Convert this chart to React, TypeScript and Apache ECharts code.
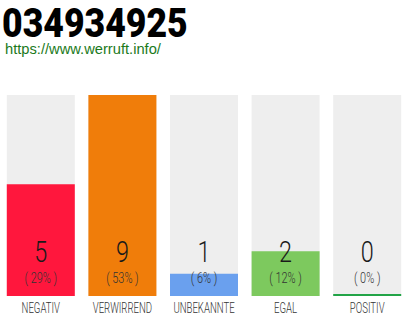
import React, { useEffect, useRef } from "react";
import * as echarts from "echarts";

const categories = ["NEGATIV", "VERWIRREND", "UNBEKANNTE", "EGAL", "POSITIV"];
const counts = [5, 9, 1, 2, 0];
const colors = ["#ff173d", "#f07d0a", "#6aa0ee", "#7dc95e", "#22a447"];
const phoneNumber = "034934925";
const siteUrl = "https://www.werruft.info/";

const THIN = "Roboto, 'DejaVu Sans Condensed', sans-serif";

export default function App() {
  const ref = useRef<HTMLDivElement>(null);

  useEffect(() => {
    if (!ref.current) return;
    const chart = echarts.init(ref.current, undefined, { renderer: "svg" });
    const total = counts.reduce((a, b) => a + b, 0);
    const maxCount = Math.max(...counts);

    chart.setOption({
      animation: false,
      backgroundColor: "#ffffff",
      grid: { left: -2, width: 410, top: 95, bottom: 24 },
      xAxis: {
        type: "category",
        data: categories,
        axisLine: { show: false },
        axisTick: { show: false },
        axisLabel: { show: false },
      },
      yAxis: {
        type: "value",
        min: 0,
        max: maxCount,
        show: false,
        splitLine: { show: false },
      },
      series: [
        {
          type: "bar",
          barWidth: 68,
          barMinHeight: 2,
          showBackground: true,
          backgroundStyle: { color: "#eeeeee" },
          data: counts.map((v, i) => ({
            value: v,
            itemStyle: { color: colors[i] },
          })),
        },
      ],
    });

    // Condensed texts placed from the axis scale: value, share and category under each bar
    const texts: any[] = [];
    categories.forEach((name, i) => {
      const [cx, baseY] = chart.convertToPixel({ seriesIndex: 0 }, [i, 0]) as number[];
      texts.push({
        type: "text",
        x: cx,
        y: baseY - 44,
        z: 100,
        scaleX: 0.78,
        style: {
          text: String(counts[i]),
          font: `300 30px ${THIN}`,
          fill: "#1a1a1a",
          align: "center",
          verticalAlign: "middle",
        },
      });
      texts.push({
        type: "text",
        x: cx,
        y: baseY - 18,
        z: 100,
        scaleX: 0.78,
        style: {
          text: `( ${Math.round((counts[i] / total) * 100)}% )`,
          font: `300 14px ${THIN}`,
          fill: "#333333",
          align: "center",
          verticalAlign: "middle",
        },
      });
      texts.push({
        type: "text",
        x: cx,
        y: baseY + 12,
        z: 100,
        scaleX: 0.64,
        style: {
          text: name,
          font: `300 15px ${THIN}`,
          fill: "#333333",
          align: "center",
          verticalAlign: "middle",
        },
      });
    });

    chart.setOption({
      graphic: [
        {
          type: "text",
          x: 2,
          y: 23,
          z: 100,
          scaleX: 0.89,
          style: {
            text: phoneNumber,
            font: `900 40px ${THIN}`,
            fill: "#000000",
            align: "left",
            verticalAlign: "middle",
          },
        },
        {
          type: "text",
          x: 5,
          y: 49,
          z: 100,
          style: {
            text: siteUrl,
            font: "14.7px 'Liberation Sans', Arial, sans-serif",
            fill: "#1b7a1b",
            align: "left",
            verticalAlign: "middle",
          },
        },
        ...texts,
      ],
    });

    return () => chart.dispose();
  }, []);

  return <div ref={ref} style={{ width: 410, height: 320, position: "absolute", left: 0, top: 0 }} />;
}
